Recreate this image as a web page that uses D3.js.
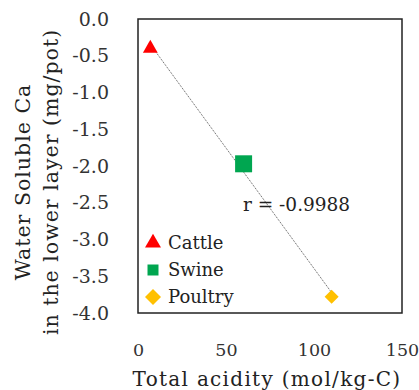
<!DOCTYPE html>
<html>
<head>
<meta charset="utf-8">
<script src="https://cdn.jsdelivr.net/npm/d3@7"></script>
<style>
  body { margin: 0; background: #fff; }
  svg { font-family: "DejaVu Serif", "Liberation Serif", serif; }
</style>
</head>
<body>
<script>
// data
const groups = ["Cattle", "Swine", "Poultry"];
const acidity = [7, 60, 110];          // mol/kg-C
const solubleCa = [-0.40, -1.97, -3.78]; // mg/pot
const colors = ["#ff0000", "#00a650", "#ffc000"];
const xTicks = [0, 50, 100, 150];
const yTicks = [0, -0.5, -1, -1.5, -2, -2.5, -3, -3.5, -4];
const rLabel = "r = -0.9988";

const width = 419, height = 390;
const margin = {top: 19, right: 17, bottom: 77, left: 138};

const svg = d3.select("body").append("svg")
  .attr("width", width)
  .attr("height", height);

const x = d3.scaleLinear().domain([0, 150]).range([margin.left, width - margin.right]);
const y = d3.scaleLinear().domain([0, -4]).range([margin.top, height - margin.bottom]);

// marker shapes: triangle, square, square turned 45deg
const marker = (i, s) => {
  if (i === 0) return d3.symbol(d3.symbolTriangle, s)();
  return d3.symbol(d3.symbolSquare, s)();
};

const yFmt = d => d3.format(".1f")(d).replace("\u2212", "-");

// tick labels
svg.append("g")
  .attr("transform", `translate(${margin.left - 26},0)`)
  .call(d3.axisLeft(y).tickValues(yTicks).tickFormat(yFmt).tickSize(0))
  .call(g => g.select(".domain").remove())
  .selectAll("text")
  .attr("font-family", "DejaVu Serif")
  .attr("font-size", 19)
  .attr("fill", "#333");

svg.append("g")
  .attr("transform", `translate(0,${height - margin.bottom + 28})`)
  .call(d3.axisBottom(x).tickValues(xTicks).tickFormat(d3.format("d")).tickSize(0))
  .call(g => g.select(".domain").remove())
  .selectAll("text")
  .attr("font-family", "DejaVu Serif")
  .attr("font-size", 17.5)
  .attr("fill", "#333");

// frame
svg.append("rect")
  .attr("x", x(0)).attr("y", y(0))
  .attr("width", x(150) - x(0))
  .attr("height", y(-4) - y(0))
  .attr("fill", "none")
  .attr("stroke", "#222")
  .attr("stroke-width", 1.5);

// linear trend
const xm = d3.mean(acidity), ym = d3.mean(solubleCa);
const slope = d3.sum(acidity, (v, i) => (v - xm) * (solubleCa[i] - ym)) /
  d3.sum(acidity, v => (v - xm) ** 2);
const icpt = ym - slope * xm;
const [x0, x1] = d3.extent(acidity);
svg.append("line")
  .attr("x1", x(x0)).attr("y1", y(icpt + slope * x0))
  .attr("x2", x(x1)).attr("y2", y(icpt + slope * x1))
  .attr("stroke", "#555")
  .attr("stroke-width", 1)
  .attr("stroke-dasharray", "1,1");

// points
const sizes = [95, 289, 98];
svg.append("g").selectAll("path")
  .data(groups)
  .join("path")
  .attr("transform", (d, i) => `translate(${x(acidity[i])},${y(solubleCa[i])})` + (i === 2 ? " rotate(45)" : ""))
  .attr("d", (d, i) => marker(i, sizes[i]))
  .attr("fill", (d, i) => colors[i]);

svg.append("text")
  .attr("x", 243).attr("y", 211)
  .attr("font-size", 18.5)
  .attr("fill", "#222")
  .text(rLabel);

// legend
const leg = svg.append("g").selectAll("g")
  .data(groups)
  .join("g")
  .attr("transform", (d, i) => `translate(${x(0) + 15},${243 + i * 27})`);
leg.append("path")
  .attr("transform", (d, i) => i === 2 ? "rotate(45)" : null)
  .attr("d", (d, i) => marker(i, [110, 121, 128][i]))
  .attr("fill", (d, i) => colors[i]);
leg.append("text")
  .attr("x", 15).attr("dy", "0.36em")
  .attr("font-size", 18)
  .attr("fill", "#222")
  .text(d => d);

// axis titles
svg.append("text")
  .attr("x", (x(0) + x(150)) / 2 - 3).attr("y", 386)
  .attr("text-anchor", "middle")
  .attr("font-size", 20)
  .attr("letter-spacing", 1.3)
  .attr("fill", "#222")
  .text("Total acidity (mol/kg-C)");

const yl = svg.append("text")
  .attr("transform", `translate(30,182) rotate(-90)`)
  .attr("text-anchor", "middle")
  .attr("font-size", 20.5)
  .attr("letter-spacing", 1.0)
  .attr("fill", "#222");
yl.append("tspan").attr("x", 0).attr("dy", 0).text("Water Soluble Ca");
yl.append("tspan").attr("x", 0).attr("dy", 28).text("in the lower layer (mg/pot)");
</script>
</body>
</html>
